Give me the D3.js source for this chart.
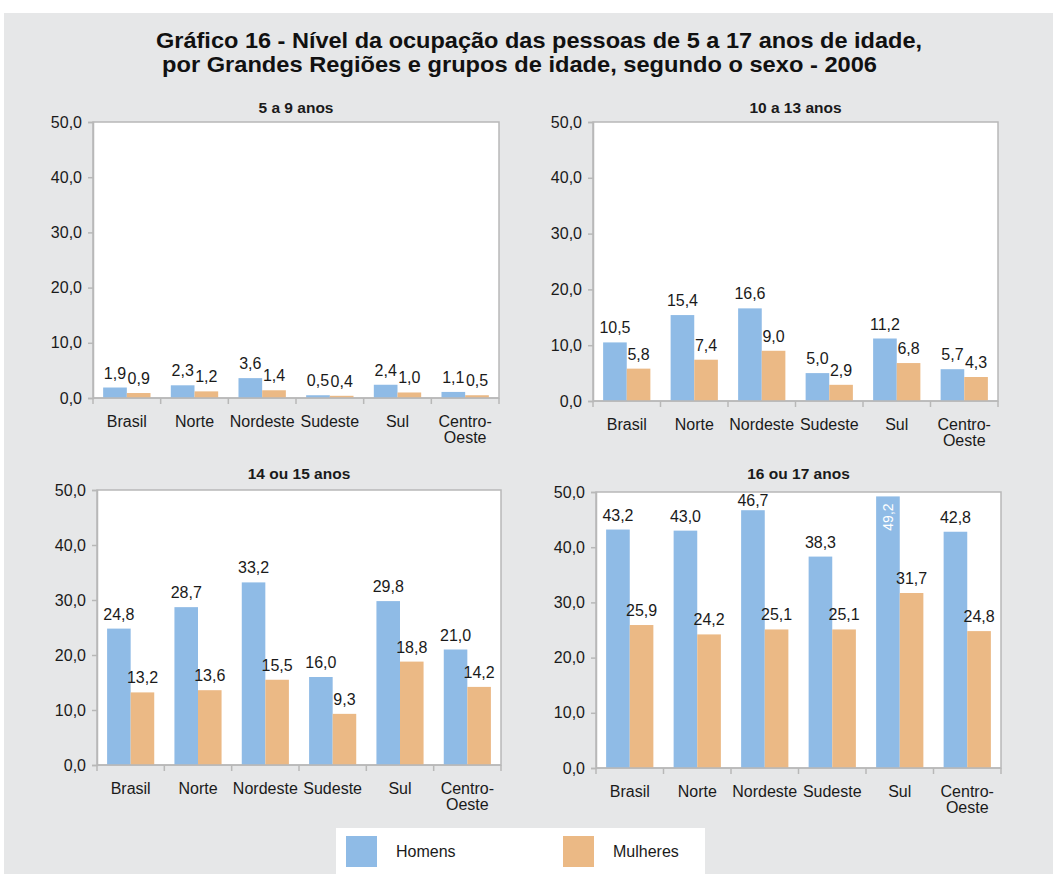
<!DOCTYPE html>
<html>
<head>
<meta charset="utf-8">
<script src="https://cdn.jsdelivr.net/npm/d3@7"></script>
<style>
  body { margin: 0; background: #fff; }
  svg { display: block; }
  text { font-family: "Liberation Sans", Arial, sans-serif; fill: #1a1a1a; }
</style>
</head>
<body>
<svg id="chart" width="1053" height="874"></svg>
<script>
// Data
const regioes = ["Brasil", "Norte", "Nordeste", "Sudeste", "Sul", "Centro-Oeste"];
const faixas = ["5 a 9 anos", "10 a 13 anos", "14 ou 15 anos", "16 ou 17 anos"];
const homens5a9 = [1.9, 2.3, 3.6, 0.5, 2.4, 1.1];
const mulheres5a9 = [0.9, 1.2, 1.4, 0.4, 1.0, 0.5];
const homens10a13 = [10.5, 15.4, 16.6, 5.0, 11.2, 5.7];
const mulheres10a13 = [5.8, 7.4, 9.0, 2.9, 6.8, 4.3];
const homens14a15 = [24.8, 28.7, 33.2, 16.0, 29.8, 21.0];
const mulheres14a15 = [13.2, 13.6, 15.5, 9.3, 18.8, 14.2];
const homens16a17 = [43.2, 43.0, 46.7, 38.3, 49.2, 42.8];
const mulheres16a17 = [25.9, 24.2, 25.1, 25.1, 31.7, 24.8];
const yTicks = [0, 10, 20, 30, 40, 50];
const series = ["Homens", "Mulheres"];

const colors = { Homens: "#8fbbe6", Mulheres: "#ebb985" };
const borderColor = "#b8b8b8";

const ptBR = d3.formatLocale({ decimal: ",", thousands: ".", grouping: [3], currency: ["R$", ""] });
const fmt = ptBR.format(".1f");

const svg = d3.select("#chart");

// Background
svg.append("rect")
    .attr("x", 4).attr("y", 13)
    .attr("width", 1049).attr("height", 861)
    .attr("fill", "#e6e7e8");

// Title
const titleLines = [
    { text: "Gráfico 16 - Nível da ocupação das pessoas de 5 a 17 anos de idade,", x: 156, y: 48, len: 766 },
    { text: "por Grandes Regiões e grupos de idade, segundo o sexo - 2006", x: 162, y: 72, len: 715 }
];
svg.selectAll(".title")
    .data(titleLines)
    .enter().append("text")
    .attr("class", "title")
    .attr("x", d => d.x)
    .attr("y", d => d.y)
    .attr("textLength", d => d.len)
    .attr("lengthAdjust", "spacingAndGlyphs")
    .style("font-size", "22px")
    .style("font-weight", "bold")
    .style("fill", "#111")
    .text(d => d.text);

// Panels (layout only)
const panels = [
    { title: faixas[0], homens: homens5a9, mulheres: mulheres5a9, left: 93, top: 122, right: 499, bottom: 398, titleY: 113 },
    { title: faixas[1], homens: homens10a13, mulheres: mulheres10a13, left: 593, top: 122, right: 998, bottom: 401, titleY: 113 },
    { title: faixas[2], homens: homens14a15, mulheres: mulheres14a15, left: 97, top: 490, right: 501, bottom: 765, titleY: 479 },
    { title: faixas[3], homens: homens16a17, mulheres: mulheres16a17, left: 596, top: 492, right: 1001, bottom: 768, titleY: 479 }
];

panels.forEach(p => {
    const w = p.right - p.left;
    const h = p.bottom - p.top;
    const g = svg.append("g").attr("transform", `translate(${p.left},${p.top})`);

    const x0 = d3.scaleBand().domain(regioes).range([0, w]).paddingInner(0.3).paddingOuter(0.15);
    const x1 = d3.scaleBand().domain(series).range([0, x0.bandwidth()]);
    const y = d3.scaleLinear().domain([0, 50]).range([h, 0]);
    const inside = v => y(v) < 12;

    // plot area
    g.append("rect")
        .attr("width", w).attr("height", h)
        .attr("fill", "#fff")
        .attr("stroke", borderColor)
        .attr("stroke-width", 1.5);

    // panel title
    svg.append("text")
        .attr("x", p.left + w / 2)
        .attr("y", p.titleY)
        .attr("text-anchor", "middle")
        .style("font-size", "15.5px")
        .style("font-weight", "bold")
        .text(p.title);

    const rows = regioes.map((r, i) => ({ regiao: r, Homens: p.homens[i], Mulheres: p.mulheres[i] }));

    const groups = g.selectAll(".grp")
        .data(rows)
        .enter().append("g")
        .attr("class", "grp")
        .attr("transform", d => `translate(${x0(d.regiao)},0)`);

    const cells = groups.selectAll("g")
        .data(d => series.map(s => ({ key: s, value: d[s] })))
        .enter().append("g");

    cells.append("rect")
        .attr("x", d => x1(d.key))
        .attr("y", d => y(d.value))
        .attr("width", x1.bandwidth())
        .attr("height", d => h - y(d.value))
        .attr("fill", d => colors[d.key]);

    cells.append("text")
        .attr("transform", d => {
            const cx = x1(d.key) + x1.bandwidth() / 2;
            if (inside(d.value)) {
                return `translate(${cx + 5},${y(d.value) + 7}) rotate(-90)`;
            }
            return `translate(${cx},${Math.max(y(d.value) - 9, 14)})`;
        })
        .attr("text-anchor", d => (inside(d.value) ? "end" : "middle"))
        .style("font-size", d => (inside(d.value) ? "14px" : "16px"))
        .style("fill", d => (inside(d.value) ? "#fff" : "#1a1a1a"))
        .text(d => fmt(d.value));

    // y axis
    const yAxis = g.append("g")
        .call(d3.axisLeft(y).tickValues(yTicks).tickSize(5).tickPadding(6).tickFormat(fmt));
    yAxis.select(".domain").attr("stroke", borderColor).attr("stroke-width", 1.5);
    yAxis.selectAll(".tick line").attr("stroke", borderColor).attr("stroke-width", 1.5);
    yAxis.selectAll(".tick text")
        .style("font-size", "16px")
        .style("font-family", "'Liberation Sans', Arial, sans-serif")
        .attr("fill", "#1a1a1a");

    // x axis: boundary ticks between categories
    const step = x0.step();
    const bounds = d3.range(regioes.length + 1).map(i => i * step);
    g.append("line")
        .attr("x1", 0).attr("x2", w)
        .attr("y1", h).attr("y2", h)
        .attr("stroke", borderColor).attr("stroke-width", 1.5);
    g.selectAll(".xtick")
        .data(bounds)
        .enter().append("line")
        .attr("x1", d => d).attr("x2", d => d)
        .attr("y1", h).attr("y2", h + 6)
        .attr("stroke", borderColor).attr("stroke-width", 1.5);

    // category labels
    const cat = g.selectAll(".cat")
        .data(regioes)
        .enter().append("text")
        .attr("class", "cat")
        .attr("text-anchor", "middle")
        .attr("x", d => x0(d) + x0.bandwidth() / 2)
        .attr("y", h + 29)
        .style("font-size", "16px");
    cat.each(function (d) {
        const parts = d === "Centro-Oeste" ? ["Centro-", "Oeste"] : [d];
        const t = d3.select(this);
        parts.forEach((s, i) => {
            t.append("tspan")
                .attr("x", x0(d) + x0.bandwidth() / 2)
                .attr("dy", i === 0 ? 0 : 16)
                .text(s);
        });
    });
});

// Legend
const legend = svg.append("g");
legend.append("rect")
    .attr("x", 336).attr("y", 828)
    .attr("width", 369).attr("height", 46)
    .attr("fill", "#fff");
const legendItems = legend.selectAll(".leg")
    .data(series)
    .enter().append("g")
    .attr("class", "leg")
    .attr("transform", (d, i) => `translate(${346 + i * 217},836)`);
legendItems.append("rect")
    .attr("width", 31).attr("height", 31)
    .attr("fill", d => colors[d]);
legendItems.append("text")
    .attr("x", 50).attr("y", 21)
    .style("font-size", "16px")
    .text(d => d);
</script>
</body>
</html>
